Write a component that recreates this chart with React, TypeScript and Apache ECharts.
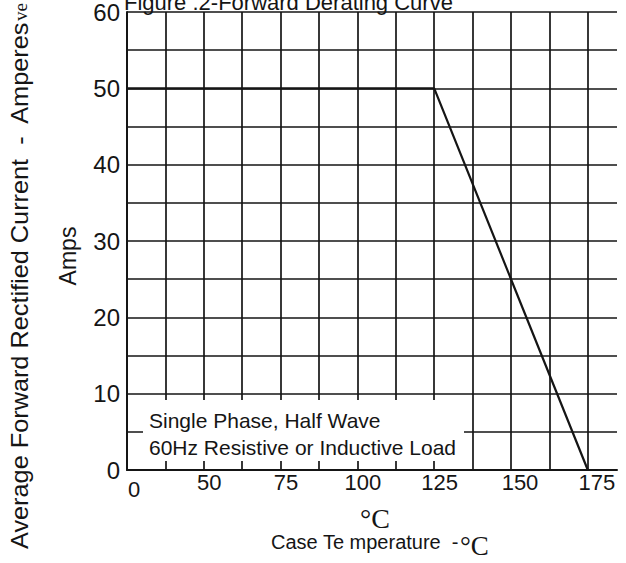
import React, { useEffect, useRef } from 'react';
import * as echarts from 'echarts';

// Derating curve (case temperature °C -> average forward current A)
const tempPoints = [25, 125, 175];
const currentPoints = [50, 50, 0];
// x tick labels as printed on the original sheet (left edge printed "0")
const xTickValues = [25, 50, 75, 100, 125, 150, 175];
const xTickLabels = ['0', '50', '75', '100', '125', '150', '175'];
const yTickValues = [0, 10, 20, 30, 40, 50, 60];
const yTickLabels = ['0', '10', '20', '30', '40', '50', '60'];

const SANS = '"Liberation Sans", Arial, Helvetica, sans-serif';
const SERIF = '"Liberation Serif", "Times New Roman", serif';
const INK = '#151515';

export default function App() {
  const ref = useRef<HTMLDivElement>(null);
  useEffect(() => {
    if (!ref.current) return;
    const chart = echarts.init(ref.current, null, { renderer: 'svg' });
    const data = tempPoints.map((t, i) => [t, currentPoints[i]]);
    chart.setOption({
      animation: false,
      backgroundColor: '#ffffff',
      grid: { left: 127, top: 12, right: 9, bottom: 93, containLabel: false },
      xAxis: {
        type: 'value',
        min: 25,
        max: 184.5,
        interval: 12.5,
        axisLine: { show: true, lineStyle: { color: INK, width: 2 } },
        axisTick: { show: false },
        splitLine: { show: true, showMaxLine: false, showMinLine: false, lineStyle: { color: INK, width: 1.7 } },
        axisLabel: {
          margin: 1,
          color: INK,
          fontSize: 22,
          fontFamily: SANS,
          formatter: (v: number) => {
            const i = xTickValues.indexOf(v);
            if (i < 0) return '';
            if (i === 0) return '{z|' + xTickLabels[0] + '}';
            if (i >= 5) return '{w|' + xTickLabels[i] + '}';
            return '{n|' + xTickLabels[i] + '}';
          },
          rich: {
            z: { fontSize: 22, fontFamily: SANS, color: INK, padding: [7, 0, 0, 14] },
            n: { fontSize: 22, fontFamily: SANS, color: INK, padding: [0, 0, 0, 11] },
            w: { fontSize: 22, fontFamily: SANS, color: INK, padding: [0, 0, 0, 18] },
          },
        },
      },
      yAxis: {
        type: 'value',
        min: 0,
        max: 60,
        interval: 5,
        axisLine: { show: true, lineStyle: { color: INK, width: 2 } },
        axisTick: { show: false },
        splitLine: { show: true, showMinLine: false, lineStyle: { color: INK, width: 1.7 } },
        axisLabel: {
          margin: 7,
          color: INK,
          fontSize: 24,
          fontFamily: SANS,
          formatter: (v: number) => {
            const i = yTickValues.indexOf(v);
            return i < 0 ? '' : yTickLabels[i];
          },
        },
      },
      series: [
        {
          type: 'line',
          data,
          symbol: 'none',
          z: 5,
          lineStyle: { color: INK, width: 2.2 },
        },
      ],
      graphic: [
        {
          type: 'rect',
          z: 20,
          shape: { x: 143, y: 400, width: 321, height: 61 },
          style: { fill: '#ffffff' },
        },
        {
          type: 'text',
          z: 21,
          x: 149,
          y: 420,
          style: { text: 'Single Phase, Half Wave', font: '21px ' + SANS, fill: INK, verticalAlign: 'middle', align: 'left' },
        },
        {
          type: 'text',
          z: 21,
          x: 149,
          y: 447,
          style: { text: '60Hz Resistive or Inductive Load', font: '21px ' + SANS, fill: INK, verticalAlign: 'middle', align: 'left' },
        },
        {
          type: 'text',
          z: 21,
          x: 124,
          y: 2,
          style: { text: 'Figure .2-Forward Derating Curve', font: '22px ' + SANS, fill: INK, verticalAlign: 'middle', align: 'left' },
        },
        {
          type: 'text',
          z: 21,
          x: 20,
          y: 549,
          rotation: Math.PI / 2,
          scaleX: 1.1,
          style: { text: 'Average Forward Rectified Current  -  Amperes', font: '23px ' + SANS, fill: INK, verticalAlign: 'middle', align: 'left' },
        },
        {
          type: 'text',
          z: 21,
          x: 20,
          y: 21,
          rotation: Math.PI / 2,
          style: { text: 've r s', font: '19px ' + SERIF, fill: INK, verticalAlign: 'middle', align: 'left' },
        },
        {
          type: 'text',
          z: 21,
          x: 68,
          y: 256,
          rotation: Math.PI / 2,
          style: { text: 'Amps', font: '23px ' + SANS, fill: INK, verticalAlign: 'middle', align: 'center' },
        },
        {
          type: 'text',
          z: 21,
          x: 375,
          y: 518,
          style: { text: '°C', font: '28px ' + SERIF, fill: INK, verticalAlign: 'middle', align: 'center' },
        },
        {
          type: 'text',
          z: 21,
          x: 271,
          y: 542,
          style: { text: 'Case Te mperature  -', font: '20px ' + SANS, fill: INK, verticalAlign: 'middle', align: 'left' },
        },
        {
          type: 'text',
          z: 21,
          x: 460,
          y: 546,
          style: { text: '°C', font: '27px ' + SERIF, fill: INK, verticalAlign: 'middle', align: 'left' },
        },
      ],
    });
    return () => chart.dispose();
  }, []);
  return <div ref={ref} style={{ position: 'fixed', left: 0, top: 0, width: 626, height: 563 }} />;
}
